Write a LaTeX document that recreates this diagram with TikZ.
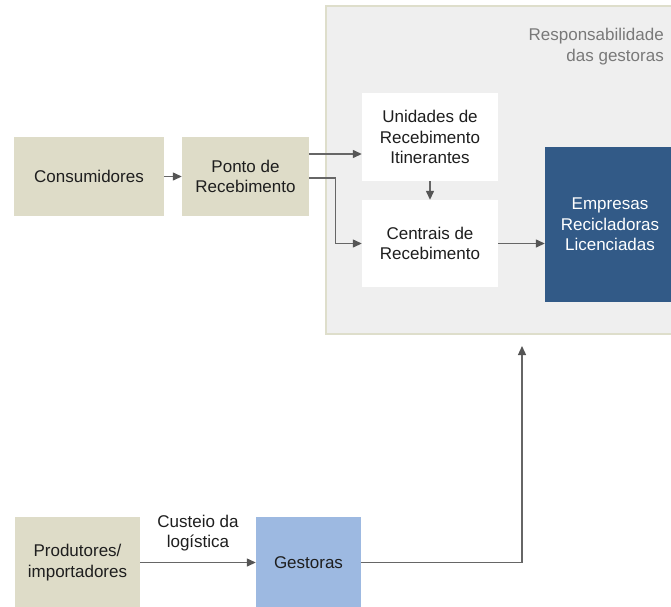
\documentclass[tikz,border=0pt]{standalone}
\usepackage{fontspec}
\setmainfont{Liberation Sans}
\usetikzlibrary{arrows.meta,calc}
\definecolor{panelfill}{HTML}{EFEFEF}
\definecolor{panelline}{HTML}{DEDECB}
\definecolor{beige}{HTML}{DEDCC8}
\definecolor{lightblue}{HTML}{9DB9E1}
\definecolor{darkblue}{HTML}{325A87}
\definecolor{linegray}{HTML}{666666}
\definecolor{tipgray}{HTML}{555555}
\definecolor{txt}{HTML}{1E1E1E}
\tikzset{
  x=1pt, y=1pt,
  box/.style={rectangle, inner sep=2pt, align=center, text=txt,
    font=\fontsize{17}{20.5}\selectfont},
  flow/.style={draw=linegray, line width=1.3pt,
    -{Triangle[length=9pt,width=8pt,fill=tipgray,color=tipgray]}}
}
\begin{document}
\begin{tikzpicture}
\useasboundingbox (0,0) rectangle (671,-606);
\clip (0,0) rectangle (671,-606);
\fill[white] (0,0) rectangle (671,-606);

% area managed by the gestoras
\draw[fill=panelfill, draw=panelline, line width=1.5pt] (326,-6) rectangle (690,-334);
\node[anchor=north east, align=right, text=gray!95!black,
      font=\fontsize{17}{21}\selectfont, inner sep=0pt] (resp) at (664,-28)
  {Responsabilidade\\das gestoras};

% boxes
\node[box, fill=beige, minimum width=150pt, minimum height=79pt] (cons) at (89,-176.5) {Consumidores};
\node[box, fill=beige, minimum width=127pt, minimum height=79pt] (ponto) at (245.5,-176.5) {Ponto de\\Recebimento};
\node[box, fill=white, minimum width=136pt, minimum height=88pt] (unid) at (430,-137) {Unidades de\\Recebimento\\Itinerantes};
\node[box, fill=white, minimum width=136pt, minimum height=87pt] (cent) at (430,-243.5) {Centrais de\\Recebimento};
\node[box, fill=darkblue, text=white, minimum width=130pt, minimum height=155pt] (emp) at (610,-224.5) {Empresas\\Recicladoras\\Licenciadas};
\node[box, fill=beige, minimum width=125pt, minimum height=91pt] (prod) at (77.5,-562.5) {Produtores/\\importadores};
\node[box, fill=lightblue, minimum width=105pt, minimum height=91pt] (gest) at (308.5,-562.5) {Gestoras};
\node[box, inner sep=0pt] (cust) at (198,-533) {Custeio da\\logística};
\coordinate (tip) at (522,-346);

% connectors
\draw[flow] (cons) -- (ponto);
\draw[flow] ([yshift=22.5pt]ponto.east) -- ([yshift=22.5pt]ponto.east -| unid.west);
\draw[flow] ([yshift=-1.5pt]ponto.east) -- ++(26,0) |- (cent.west);
\draw[flow] (unid.south) -- (cent.north);
\draw[flow] (cent.east) -- (cent.east -| emp.west);
\draw[flow] (prod.east) -- (gest.west);
\draw[flow] (gest.east) -| (tip);
\end{tikzpicture}
\end{document}
